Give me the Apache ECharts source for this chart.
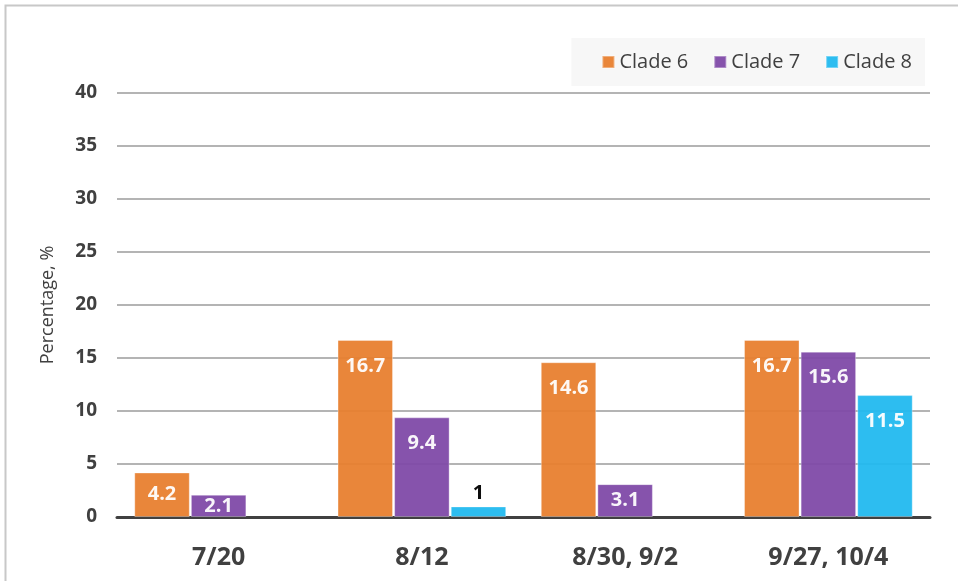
<!DOCTYPE html>
<html><head><meta charset="utf-8">
<script src="https://cdn.jsdelivr.net/npm/echarts@6/dist/echarts.min.js"></script>
<style>html,body{margin:0;padding:0;background:#fff}#c{width:958px;height:581px}</style>
</head><body><div id="c"></div>
<script>
const categories = ['7/20', '8/12', '8/30, 9/2', '9/27, 10/4'];
const clade6 = [4.2, 16.7, 14.6, 16.7];
const clade7 = [2.1, 9.4, 3.1, 15.6];
const clade8 = [null, 1, null, 11.5];
const yTicks = [0, 5, 10, 15, 20, 25, 30, 35, 40];
const seriesNames = ['Clade 6', 'Clade 7', 'Clade 8'];
const colors = ['#E8802F', '#7F4AA8', '#22B9EF'];

const font = '"Open Sans", "Noto Sans", sans-serif';
const chart = echarts.init(document.getElementById('c'), null, {renderer: 'canvas'});

function item(v) {
  if (v == null) return v;
  if (v < 1.5) return {value: v, label: {position: 'top', color: '#000', distance: 3}};
  if (v < 5) return {value: v, label: {position: 'inside'}};
  return v;
}
function mk(name, data, color) {
  return {
    name, type: 'bar', data: data.map(item),
    barGap: '2%', barCategoryGap: '17%',
    itemStyle: {color, opacity: 0.95, borderColor: 'rgba(255,255,255,0.35)', borderWidth: 1},
    label: {
      show: true,
      position: 'insideTop',
      distance: 16,
      color: '#fff', fontWeight: 'bold', fontSize: 20, fontFamily: font,
      formatter: p => p.value == null ? '' : String(p.value)
    }
  };
}

chart.setOption({
  animation: false,
  textStyle: {fontFamily: font},
  graphic: [{
    type: 'rect', silent: true, z: -10,
    shape: {x: 5.5, y: 5.5, width: 1000, height: 600},
    style: {fill: 'none', stroke: '#c8c8c8', lineWidth: 2}
  }],
  legend: {
    data: seriesNames,
    right: 33, top: 38,
    backgroundColor: '#f7f7f7',
    padding: [14, 13, 14, 30],
    itemGap: 25, itemWidth: 12, itemHeight: 12,
    icon: 'rect',
    textStyle: {fontSize: 20, color: '#404040', fontFamily: font}
  },
  grid: {left: 117, right: 28, top: 93, bottom: 64, containLabel: false},
  xAxis: {
    type: 'category', data: categories,
    axisLine: {lineStyle: {color: '#404040', width: 3}},
    axisTick: {show: false},
    axisLabel: {fontSize: 25, fontWeight: 'bold', color: '#404040', margin: 28, fontFamily: font}
  },
  yAxis: {
    type: 'value', min: yTicks[0], max: yTicks[yTicks.length - 1], interval: 5,
    name: 'Percentage, %', nameLocation: 'middle', nameGap: 60,
    nameTextStyle: {fontSize: 18, color: '#404040', fontFamily: font},
    axisLine: {show: false}, axisTick: {show: false},
    splitLine: {lineStyle: {color: '#b4b4b4', width: 2}},
    axisLabel: {fontSize: 19, fontWeight: 'bold', color: '#404040', margin: 20, fontFamily: font}
  },
  series: [mk(seriesNames[0], clade6, colors[0]), mk(seriesNames[1], clade7, colors[1]), mk(seriesNames[2], clade8, colors[2])]
});
</script></body></html>
